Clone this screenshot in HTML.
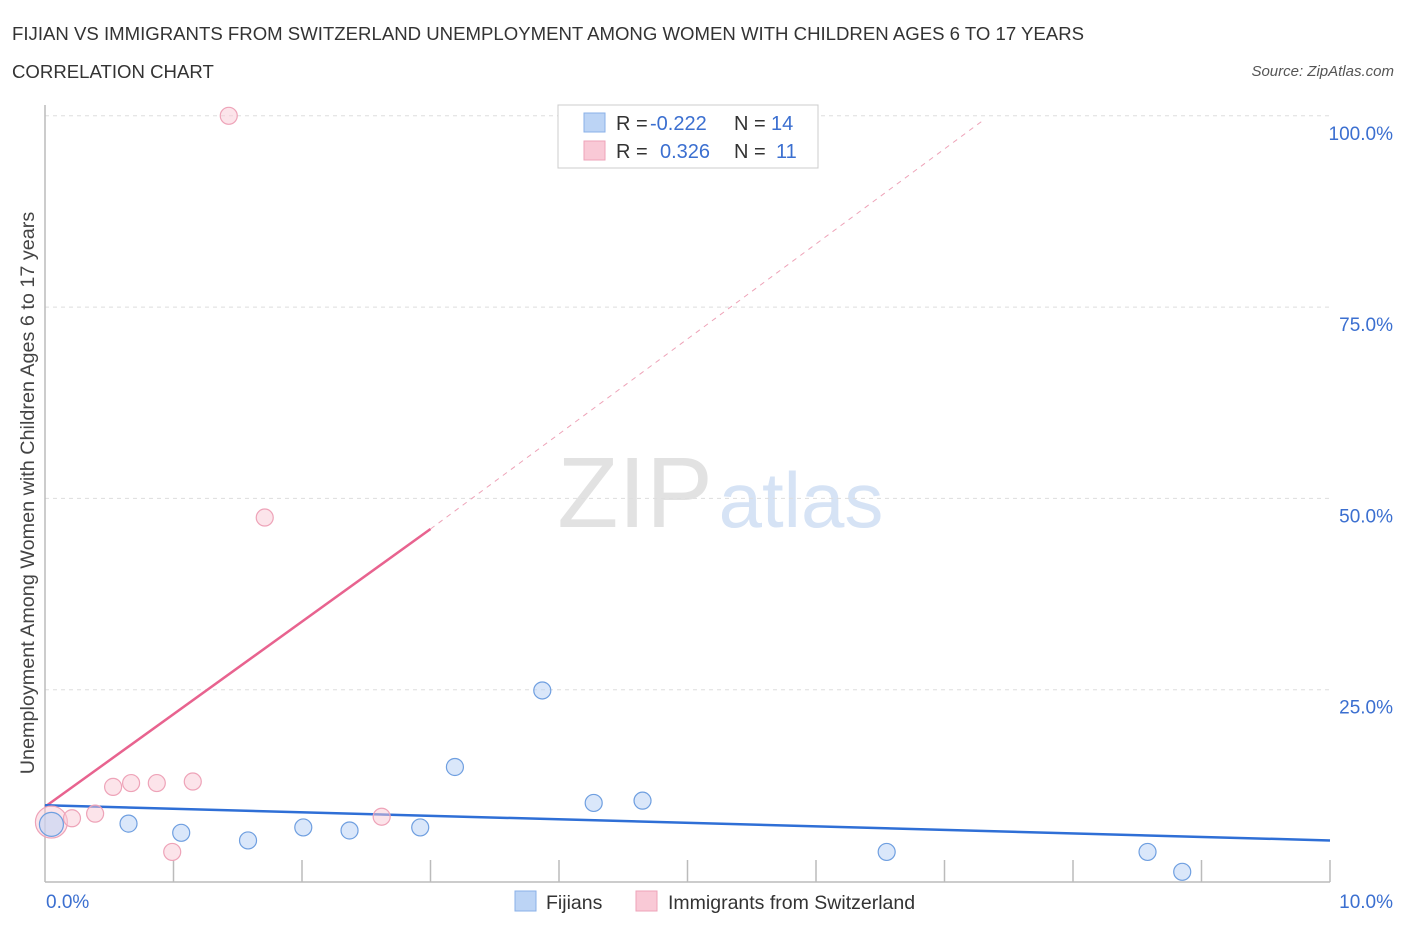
<!DOCTYPE html>
<html><head><meta charset="utf-8"><style>
body{margin:0;background:#fff;font-family:"Liberation Sans",sans-serif;}
svg text{font-family:"Liberation Sans",sans-serif;}
</style></head><body>
<svg id="chart" width="1406" height="930" xmlns="http://www.w3.org/2000/svg">
<text x="12" y="40" font-size="18.6" fill="#333">FIJIAN VS IMMIGRANTS FROM SWITZERLAND UNEMPLOYMENT AMONG WOMEN WITH CHILDREN AGES 6 TO 17 YEARS</text>
<text x="12" y="78" font-size="18.6" fill="#333">CORRELATION CHART</text>
<text x="1394" y="76" font-size="15" fill="#555" font-style="italic" text-anchor="end">Source: ZipAtlas.com</text>
<text x="34" y="493" font-size="19.8" fill="#444" text-anchor="middle" transform="rotate(-90 34 493)">Unemployment Among Women with Children Ages 6 to 17 years</text>
<g>
<text x="635" y="527" font-size="100" fill="#e2e2e2" font-family="Liberation Serif" text-anchor="middle">ZIP</text>
<text x="801" y="527" font-size="78" fill="#d6e3f5" text-anchor="middle">atlas</text>
</g>
<g id="grid"></g><g id="axes"></g><g id="trend"></g><g id="points"></g>
<g>
<rect x="558" y="105" width="260" height="63" fill="#fff" stroke="#ccc"/>
<rect x="584" y="113" width="21" height="19" fill="#bcd4f5" stroke="#8ab0e8"/>
<rect x="584" y="141" width="21" height="19" fill="#f9c9d6" stroke="#eea3b8"/>
<text x="616" y="130" font-size="20" fill="#333">R = </text><text x="650" y="130" font-size="20" fill="#3b6fd0">-0.222</text>
<text x="734" y="130" font-size="20" fill="#333">N = </text><text x="771" y="130" font-size="20" fill="#3b6fd0">14</text>
<text x="616" y="158" font-size="20" fill="#333">R = </text><text x="660" y="158" font-size="20" fill="#3b6fd0">0.326</text>
<text x="734" y="158" font-size="20" fill="#333">N = </text><text x="776" y="158" font-size="20" fill="#3b6fd0">11</text>
</g>
<g>
<rect x="515" y="891" width="21" height="20" fill="#bcd4f5" stroke="#8ab0e8"/>
<text x="546" y="909" font-size="19.5" fill="#333">Fijians</text>
<rect x="636" y="891" width="21" height="20" fill="#f9c9d6" stroke="#eea3b8"/>
<text x="668" y="909" font-size="19.5" fill="#333">Immigrants from Switzerland</text>
</g>
</svg>
<script>
const yTicks=[25,50,75,100];
const yTickLabels=["25.0%","50.0%","75.0%","100.0%"];
const xTickLabels=["0.0%","10.0%"];
const fijiX=[0.05,0.65,1.06,1.58,2.01,2.37,2.92,3.19,3.87,4.27,4.65,6.55,8.58,8.85];
const fijiY=[7.4,7.5,6.3,5.3,7.0,6.6,7.0,14.9,24.9,10.2,10.5,3.8,3.8,1.2];
const swissX=[0.05,1.43,1.71,0.21,0.39,0.53,0.67,0.87,1.15,0.99,2.62];
const swissY=[7.7,100,47.5,8.2,8.8,12.3,12.8,12.8,13.0,3.8,8.4];
const fijiTrend=[0,9.9,10,5.3];
const swissTrend=[0,9.7,3.0,46.0];
const swissDash=[3.0,46.0,7.3,99.4];
const X=v=>45+v*128.5, Y=v=>881-v*7.652;
const NS="http://www.w3.org/2000/svg";
function mk(t,a,p){const e=document.createElementNS(NS,t);for(const k in a)e.setAttribute(k,a[k]);p.appendChild(e);return e;}
const grid=document.getElementById('grid'),axes=document.getElementById('axes'),trend=document.getElementById('trend'),pts=document.getElementById('points');
yTicks.forEach((t,i)=>{
 const l=mk('line',{x1:45,x2:1330,y1:Y(t),y2:Y(t),stroke:'#ddd','stroke-dasharray':'4,4'},grid);
 
 
 const tx=mk('text',{x:1393,y:Y(t)+24,'font-size':19,fill:'#3b6fd0','text-anchor':'end'},axes);
 tx.textContent=yTickLabels[i];
 
 
});
const ax=mk('line',{x1:45,x2:45,y1:105,y2:882,stroke:'#bbb','stroke-width':1.5},axes);


const bx=mk('line',{x1:45,x2:1330,y1:882,y2:882,stroke:'#bbb','stroke-width':1.5},axes);


for(let i=1;i<=10;i++){const tk=mk('line',{x1:X(i),x2:X(i),y1:860,y2:882,stroke:'#bbb','stroke-width':1.5},axes);
 
 }
[[0,'start',46],[10,'end',1393]].forEach((d,i)=>{const t=mk('text',{x:d[2],y:908,'font-size':19,fill:'#3b6fd0','text-anchor':d[1]},axes);t.textContent=xTickLabels[i];
 
 });
const sd=mk('line',{x1:X(swissDash[0]),y1:Y(swissDash[1]),x2:X(swissDash[2]),y2:Y(swissDash[3]),stroke:'#eea3b8','stroke-dasharray':'5,5'},trend);


const st=mk('line',{x1:X(swissTrend[0]),y1:Y(swissTrend[1]),x2:X(swissTrend[2]),y2:Y(swissTrend[3]),stroke:'#e8638f','stroke-width':2.5},trend);


swissX.forEach((x,i)=>{const c=mk('circle',{cx:X(x),cy:Y(swissY[i]),r:i==0?16:8.5,fill:'rgba(249,201,214,0.5)',stroke:'#eea3b8','stroke-width':1.2},pts);
 
 });
fijiX.forEach((x,i)=>{const c=mk('circle',{cx:X(x),cy:Y(fijiY[i]),r:i==0?12:8.5,fill:'rgba(188,212,245,0.55)',stroke:'#6f9fe0','stroke-width':1.2},pts);
 
 });
const ft=mk('line',{x1:X(fijiTrend[0]),y1:Y(fijiTrend[1]),x2:X(fijiTrend[2]),y2:Y(fijiTrend[3]),stroke:'#2f6fd6','stroke-width':2.5},trend);


</script>
</body></html>
